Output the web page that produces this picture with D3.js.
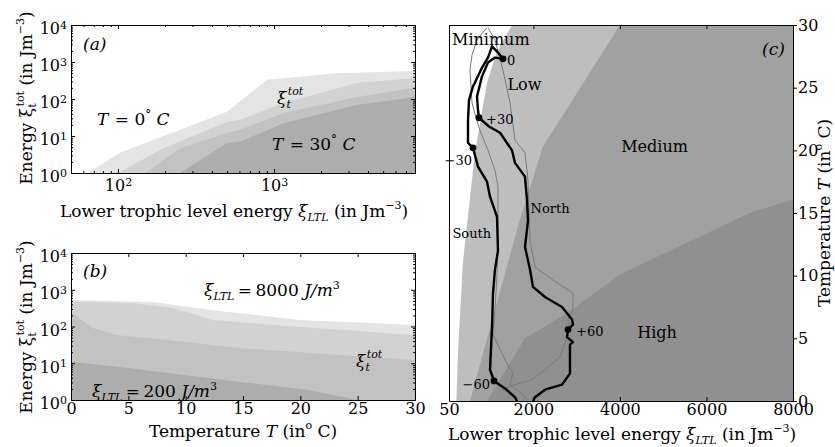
<!DOCTYPE html>
<meta charset="utf-8">
<style>
  body { margin: 0; background: #fff; }
  svg text { font-family: "DejaVu Serif", serif; fill: #000; }
</style>
<body>
<svg id="fig" width="835" height="447"></svg>
<script src="https://d3js.org/d3.v7.min.js"></script>
<script>

// ---- panel (a): xi_tot vs xi_LTL, one curve per temperature
var aT0  = [[64,1],[103,3.5],[500,45],[900,330],[2500,500],[8000,570]];
var aT10 = [[100,1],[195,4.7],[500,24],[600,27],[1150,78],[3400,270],[8000,370]];
var aT20 = [[150,1],[250,4.7],[500,12],[600,14.5],[1150,42],[3400,113],[8000,200]];
var aT30 = [[250,1],[500,6.5],[600,7],[1150,22],[3400,69],[8000,113]];

// ---- panel (b): xi_tot vs temperature, one curve per xi_LTL
var b8000 = [[0,525],[7.2,465],[11.8,290],[14.7,230],[20,150],[30,110]];
var b2000 = [[0,470],[5.4,435],[8.9,320],[12.4,150],[20,97],[30,59]];
var b800  = [[0,250],[1.9,91],[4,59],[8.4,43],[14.7,26],[30,12]];
var b200  = [[0,11],[5,7.4],[14.7,3.1],[20.6,1.9],[25,1],[30,1]];

var bandGreys = ["#e4e4e4", "#d2d2d2", "#c2c2c2", "#adadad"];

// ---- panel (c): regime boundaries (xi_LTL, T)
var edgeLow    = [[1506,30],[1150,27.8],[928,25.4],[650,19.8],[370,11],[260,4],[220,0]];
var edgeMedium = [[4000,30],[3010,24.6],[2220,20.3],[1640,13.9],[535,0]];
var edgeHigh   = [[930,0],[1806,5],[2777,7],[4000,10.1],[7000,15],[8000,16.1]];

var trackNorth = [[1298,27.3],[1113,27.4],[951,27.0],[813,25.9],[697,24.3],[720,23.2],[743,22.6],
  [974,21.9],[1229,21.4],[1506,20.0],[1575,19.0],[1806,17.9],[1853,16.0],[1876,14.4],[1806,12.3],
  [1922,10.5],[1991,9.1],[2269,8.3],[2661,7.5],[2892,6.5],[2916,6.1],[2800,5.7],[2777,5.1],
  [2916,4.7],[2846,4.5],[2846,3.5],[2846,2.2],[2661,1.3],[2269,0.9],[2037,0.3],[1991,0]];
var trackSouth = [[1298,27.3],[1182,27.8],[1044,28.3],[951,27.4],[813,26.6],[605,25.1],[512,24.0],
  [489,22.4],[489,20.6],[605,20.2],[720,18.7],[928,17.5],[998,16.3],[1159,14.7],[1182,12.0],
  [1113,10.5],[1067,8.6],[1044,5.9],[998,2.5],[1090,1.6],[1344,1.0],[1575,0.3],[1621,0]];
var thinWest = [[928,29.8],[697,28.8],[582,27.6],[535,26.4],[558,25.2],[582,23.8],[674,22.6],
  [766,21.6],[951,20.0],[1113,18.4],[1182,17.1],[1182,15.0],[1182,12.0],[1159,10.1],[1113,7.3],
  [1067,5.3],[1344,3.3],[1529,2.2],[1460,1.3],[1691,0.7],[1853,0.1]];
var thinEast = [[951,29.8],[1113,28.8],[1298,26.4],[1460,23.8],[1575,20.8],[1806,19.8],[1876,17.6],
  [1922,12.8],[2037,10.7],[2430,9.7],[2916,8.6],[2916,7.4],[2800,6.5],[2846,5.7],[2731,4.6],
  [2615,3.5],[2269,2.5],[1968,1.7],[1575,1.3],[1275,0.9]];

var dayMarks  = [[1298,27.3],[743,22.6],[605,20.2],[2800,5.7],[1090,1.6]];
var dayLabels = ["0", "+30", "\u221230", "+60", "\u221260"];

var decades = [1, 10, 100, 1000, 10000];
var tempTicks = [0, 5, 10, 15, 20, 25, 30];
var ltlTicks = [50, 2000, 4000, 6000, 8000];

var svg = d3.select("#fig");

var xA = d3.scaleLog().domain([50, 8000]).range([71, 415]);
var yA = d3.scaleLog().domain([1, 1e4]).range([173, 25]);
var xB = d3.scaleLinear().domain([0, 30]).range([71, 415]);
var yB = d3.scaleLog().domain([1, 1e4]).range([400, 253]);
var xC = d3.scaleLinear().domain([50, 8000]).range([449, 793]);
var yC = d3.scaleLinear().domain([0, 30]).range([401, 25]);

function minorLog(lo, hi) {
  var out = [];
  for (var e = Math.floor(Math.log10(lo)); e < Math.ceil(Math.log10(hi)); e++)
    for (var m = 2; m < 10; m++) {
      var v = m * Math.pow(10, e);
      if (v > lo && v < hi) out.push(v);
    }
  return out;
}

function clip(id, x, y) {
  svg.append("clipPath").attr("id", id).append("rect")
    .attr("x", x.range()[0]).attr("y", y.range()[1])
    .attr("width", x.range()[1] - x.range()[0]).attr("height", y.range()[0] - y.range()[1]);
}

function styleAxis(g) {
  g.attr("font-family", "DejaVu Sans").attr("font-size", 16);
  g.selectAll("text").attr("fill", "#000");
}

function powerLabels(g, dy) {
  g.selectAll(".tick text").each(function(d) {
    var t = d3.select(this).text("10");
    if (dy) t.attr("dy", dy);
    t.append("tspan").attr("dy", "-0.5em").attr("font-size", "11px").text(Math.round(Math.log10(d)));
  });
}

// rich text: parts = [{t, i(italic), fs, dx, dy}]
function rich(g, x, y, size, parts, anchor, rot) {
  var t = g.append("text").attr("x", x).attr("y", y).attr("font-size", size)
    .attr("text-anchor", anchor || "start");
  if (rot) t.attr("transform", "rotate(" + rot + "," + x + "," + y + ")");
  parts.forEach(function(p) {
    var s = t.append("tspan").text(p.t);
    if (p.i) s.attr("font-style", "italic");
    if (p.fs) s.attr("font-size", p.fs);
    if (p.dx) s.attr("dx", p.dx);
    if (p.dy) s.attr("dy", p.dy);
  });
  return t;
}

var LBL = 17;
function energyLabel(x, y) {
  rich(svg, x, y, LBL, [
    {t: "Energy \u03be"}, {t: "t", fs: 11, dy: 4}, {t: "tot", fs: 11, dx: -3, dy: -12},
    {t: " (in Jm", dy: 8}, {t: "\u22123", fs: 11, dy: -8}, {t: ")", dy: 8}
  ], "middle", -90);
}
function ltlLabel(x, y) {
  rich(svg, x, y, LBL, [{t: "Lower trophic level energy "}, {t: "\u03be", i: 1}, {t: "LTL", i: 1, fs: 11, dy: 4},
    {t: " (in Jm", dy: -4}, {t: "\u22123", fs: 11, dy: -8}, {t: ")", dy: 8}], "middle");
}
function tempLabel(x, y, rot) {
  rich(svg, x, y, LBL, [{t: "Temperature "}, {t: "T", i: 1}, {t: " (in"}, {t: "o", fs: 11, dy: -8},
    {t: " C)", dy: 8}], "middle", rot);
}

// ================= panel (a)
clip("clipA", xA, yA);
var gA = svg.append("g").attr("clip-path", "url(#clipA)");
var areaA = d3.area().x(d => xA(d[0])).y0(yA(1)).y1(d => yA(d[1]));
[aT0, aT10, aT20, aT30].forEach(function(c, i) {
  gA.append("path").datum(c).attr("d", areaA).attr("fill", bandGreys[i]);
});

svg.append("g").attr("transform", "translate(0," + yA.range()[0] + ")")
  .call(d3.axisBottom(xA).tickValues(minorLog(50, 8000)).tickSize(-2).tickSizeOuter(0).tickFormat(""));
svg.append("g").attr("transform", "translate(0," + yA.range()[1] + ")")
  .call(d3.axisTop(xA).tickValues(minorLog(50, 8000)).tickSize(-2).tickSizeOuter(0).tickFormat(""));
svg.append("g").attr("transform", "translate(0," + yA.range()[1] + ")")
  .call(d3.axisTop(xA).tickValues([100, 1000]).tickSize(-4).tickSizeOuter(0).tickFormat(""));
var axA = svg.append("g").attr("transform", "translate(0," + yA.range()[0] + ")")
  .call(d3.axisBottom(xA).tickValues([100, 1000]).tickSize(-4).tickSizeOuter(0).tickPadding(7).tickFormat(() => "10"));
styleAxis(axA); powerLabels(axA);
[xA.range()[0], xA.range()[1]].forEach(function(px, k) {
  svg.append("g").attr("transform", "translate(" + px + ",0)")
    .call((k ? d3.axisRight(yA) : d3.axisLeft(yA)).tickValues(minorLog(1, 1e4)).tickSize(-2).tickSizeOuter(0).tickFormat(""));
});
svg.append("g").attr("transform", "translate(" + xA.range()[1] + ",0)")
  .call(d3.axisRight(yA).tickValues(decades).tickSize(-4).tickSizeOuter(0).tickFormat(""));
var ayA = svg.append("g").attr("transform", "translate(" + xA.range()[0] + ",0)")
  .call(d3.axisLeft(yA).tickValues(decades).tickSize(-4).tickSizeOuter(0).tickPadding(4).tickFormat(() => "10"));
styleAxis(ayA); powerLabels(ayA, "0.55em");

rich(svg, 83, 50, 17, [{t: "(a)", i: 1}]);
rich(svg, 97, 125, 17, [{t: "T", i: 1}, {t: " = 0", dx: 1}, {t: "\u00b0", fs: 12, dy: -6}, {t: " C", i: 1, dy: 6}]);
rich(svg, 272, 150, 17, [{t: "T", i: 1}, {t: " = 30", dx: 1}, {t: "\u00b0", fs: 12, dy: -6}, {t: " C", i: 1, dy: 6}]);
rich(svg, 277, 104, 17, [{t: "\u03be", i: 1}, {t: "t", i: 1, fs: 11, dy: 4}, {t: "tot", i: 1, fs: 11, dx: -3, dy: -13}]);
ltlLabel(234, 217);
energyLabel(32, 98);

// ================= panel (b)
clip("clipB", xB, yB);
var gB = svg.append("g").attr("clip-path", "url(#clipB)");
var areaB = d3.area().x(d => xB(d[0])).y0(yB(1)).y1(d => yB(d[1]));
[b8000, b2000, b800, b200].forEach(function(c, i) {
  gB.append("path").datum(c).attr("d", areaB).attr("fill", bandGreys[i]);
});
svg.append("g").attr("transform", "translate(0," + yB.range()[1] + ")")
  .call(d3.axisTop(xB).tickValues(tempTicks).tickSize(-4).tickSizeOuter(0).tickFormat(""));
var axB = svg.append("g").attr("transform", "translate(0," + yB.range()[0] + ")")
  .call(d3.axisBottom(xB).tickValues(tempTicks).tickSize(-4).tickSizeOuter(0).tickPadding(3));
styleAxis(axB);
[xB.range()[0], xB.range()[1]].forEach(function(px, k) {
  svg.append("g").attr("transform", "translate(" + px + ",0)")
    .call((k ? d3.axisRight(yB) : d3.axisLeft(yB)).tickValues(minorLog(1, 1e4)).tickSize(-2).tickSizeOuter(0).tickFormat(""));
});
svg.append("g").attr("transform", "translate(" + xB.range()[1] + ",0)")
  .call(d3.axisRight(yB).tickValues(decades).tickSize(-4).tickSizeOuter(0).tickFormat(""));
var ayB = svg.append("g").attr("transform", "translate(" + xB.range()[0] + ",0)")
  .call(d3.axisLeft(yB).tickValues(decades).tickSize(-4).tickSizeOuter(0).tickPadding(4).tickFormat(() => "10"));
styleAxis(ayB); powerLabels(ayB, "0.55em");

rich(svg, 83, 277, 17, [{t: "(b)", i: 1}]);
rich(svg, 204, 296, 17, [{t: "\u03be", i: 1}, {t: "LTL", i: 1, fs: 11, dy: 4}, {t: "\u2009=\u20098000 ", dy: -4},
  {t: "J/m", i: 1}, {t: "3", fs: 11, dy: -7}]);
rich(svg, 92, 397, 17, [{t: "\u03be", i: 1}, {t: "LTL", i: 1, fs: 11, dy: 4}, {t: "\u2009=\u2009200 ", dy: -4},
  {t: "J/m", i: 1}, {t: "3", fs: 11, dy: -7}]);
rich(svg, 356, 367, 17, [{t: "\u03be", i: 1}, {t: "t", i: 1, fs: 11, dy: 4}, {t: "tot", i: 1, fs: 11, dx: -3, dy: -13}]);
tempLabel(243, 437);
energyLabel(32, 327);

// ================= panel (c)
clip("clipC", xC, yC);
var gC = svg.append("g").attr("clip-path", "url(#clipC)");
var lineC = d3.line().x(d => xC(d[0])).y(d => yC(d[1]));
var xMax = xC.domain()[1], tMax = yC.domain()[1];
gC.append("path").datum(edgeLow.concat([[xMax, 0], [xMax, tMax]]))
  .attr("d", d => lineC(d) + "Z").attr("fill", "#bebebe");
gC.append("path").datum(edgeMedium.concat([[xMax, 0], [xMax, tMax]]))
  .attr("d", d => lineC(d) + "Z").attr("fill", "#a1a1a1");
gC.append("path").datum(edgeHigh.concat([[xMax, 0]]))
  .attr("d", d => lineC(d) + "Z").attr("fill", "#909090");

[thinWest, thinEast].forEach(function(tr) {
  gC.append("path").datum(tr).attr("d", lineC).attr("fill", "none")
    .attr("stroke", "#7a7a7a").attr("stroke-width", 1);
});
[trackNorth, trackSouth].forEach(function(tr) {
  gC.append("path").datum(tr).attr("d", lineC).attr("fill", "none")
    .attr("stroke", "#000").attr("stroke-width", 2.4).attr("stroke-linejoin", "round");
});
gC.selectAll("circle.day").data(dayMarks).enter().append("circle")
  .attr("cx", d => xC(d[0])).attr("cy", d => yC(d[1])).attr("r", 3.4).attr("fill", "#000");

var dayOff = [[4, 6, "start"], [7, 6, "start"], [-1, 17, "end"], [8, 6, "start"], [-4, 8, "end"]];
dayMarks.forEach(function(d, i) {
  svg.append("text").attr("x", xC(d[0]) + dayOff[i][0]).attr("y", yC(d[1]) + dayOff[i][1])
    .attr("font-size", 13).attr("text-anchor", dayOff[i][2]).text(dayLabels[i]);
});

var regionText = [["Minimum", 120, 28.4, 16], ["Low", 1400, 24.8, 16], ["Medium", 4030, 19.9, 16],
  ["High", 4400, 5.05, 16], ["North", 1935, 15.0, 13], ["South", 130, 13.0, 13]];
regionText.forEach(function(r) {
  svg.append("text").attr("x", xC(r[1])).attr("y", yC(r[2])).attr("font-size", r[3]).text(r[0]);
});
rich(svg, 762, 55, 17, [{t: "(c)", i: 1}]);

svg.append("g").attr("transform", "translate(0," + yC.range()[1] + ")")
  .call(d3.axisTop(xC).tickValues(ltlTicks).tickSize(-4).tickSizeOuter(0).tickFormat(""));
var axC = svg.append("g").attr("transform", "translate(0," + yC.range()[0] + ")")
  .call(d3.axisBottom(xC).tickValues(ltlTicks).tickSize(-4).tickSizeOuter(0).tickPadding(3).tickFormat(d3.format("d")));
styleAxis(axC);
svg.append("g").attr("transform", "translate(" + xC.range()[0] + ",0)")
  .call(d3.axisLeft(yC).tickValues([]).tickSizeOuter(0));
var ayC = svg.append("g").attr("transform", "translate(" + xC.range()[1] + ",0)")
  .call(d3.axisRight(yC).tickValues(tempTicks).tickSize(4).tickSizeOuter(0).tickPadding(1));
styleAxis(ayC);

ltlLabel(622, 440);
tempLabel(830, 213, -90);
</script>
</body>
